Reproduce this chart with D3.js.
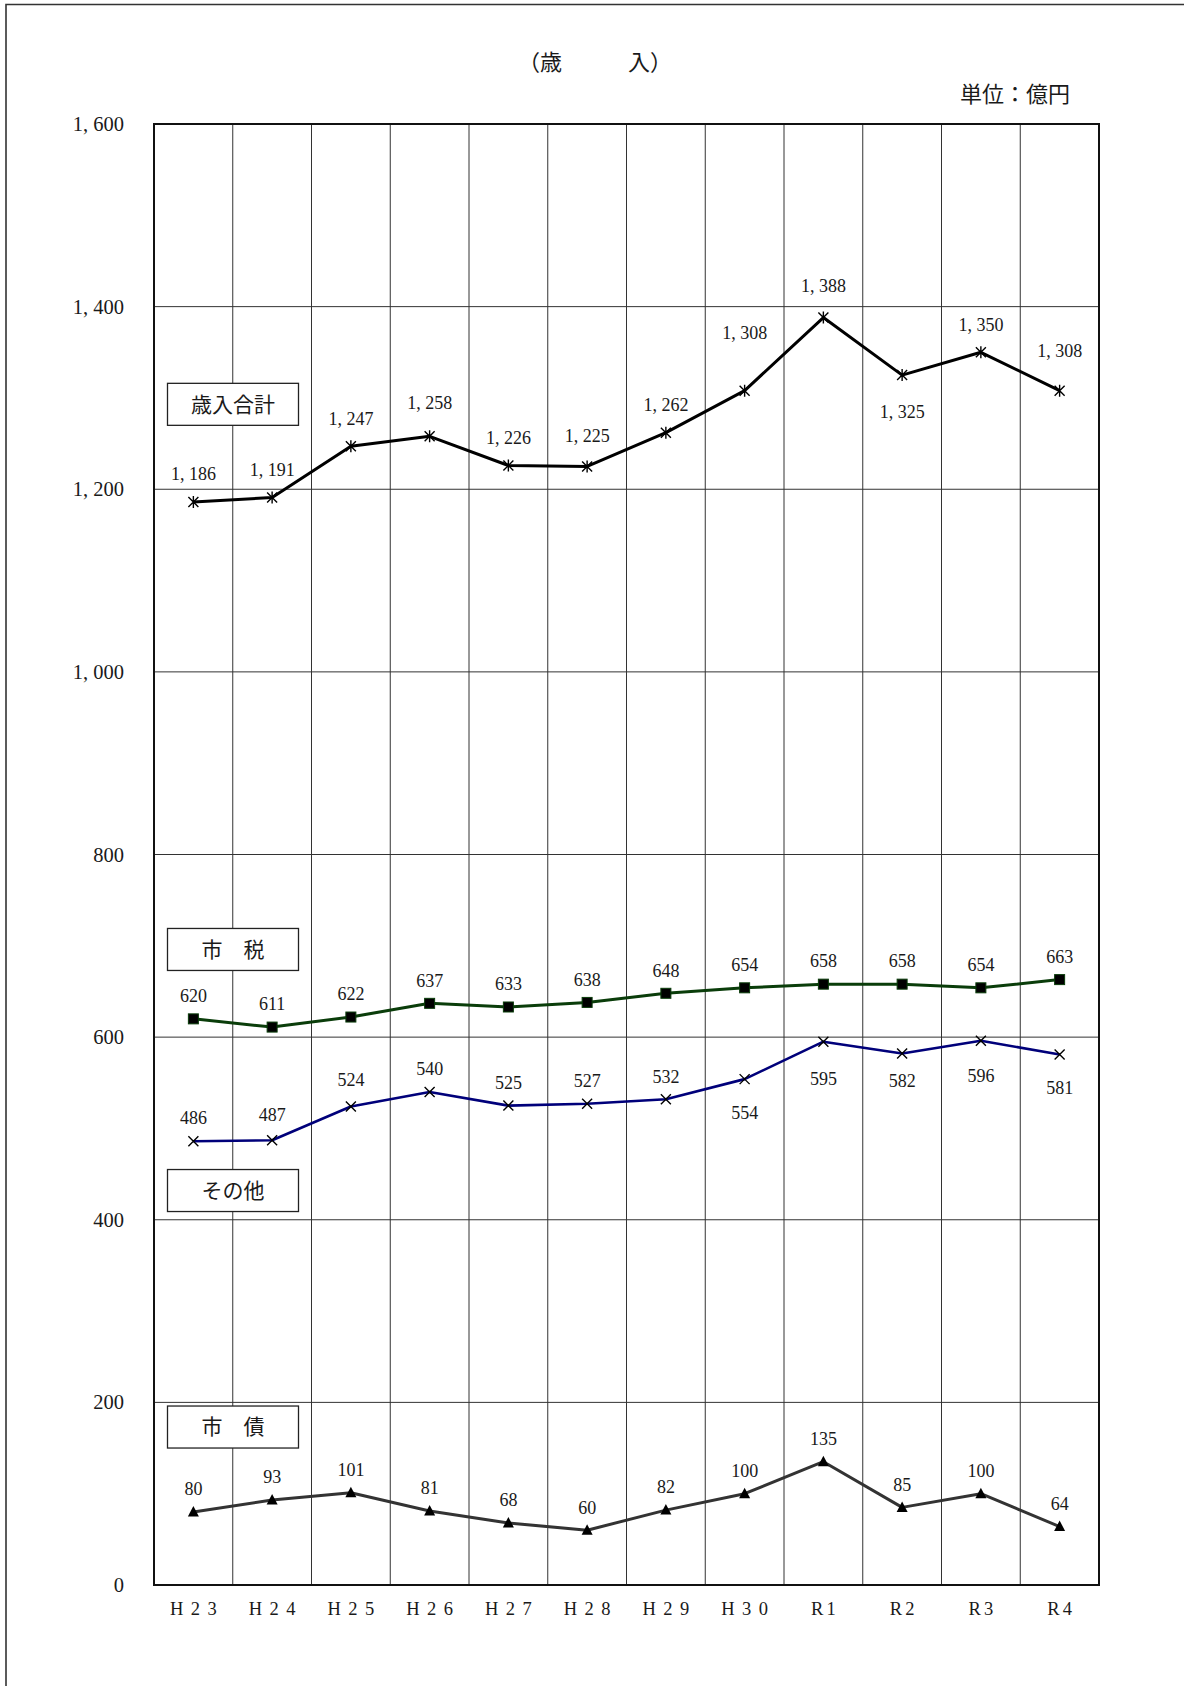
<!DOCTYPE html>
<html>
<head>
<meta charset="UTF-8">
<title>歳入</title>
<style>
  body { margin: 0; background: #fff; }
  text { fill: #1a1a1a; }
</style>
</head>
<body>
<script src="https://cdn.jsdelivr.net/npm/d3@7"></script>
<script>
// 年度
var years = ["H23", "H24", "H25", "H26", "H27", "H28", "H29", "H30", "R1", "R2", "R3", "R4"];
// 歳入合計・市税・その他・市債（億円）
var total = [1186, 1191, 1247, 1258, 1226, 1225, 1262, 1308, 1388, 1325, 1350, 1308];
var tax   = [620, 611, 622, 637, 633, 638, 648, 654, 658, 658, 654, 663];
var other = [486, 487, 524, 540, 525, 527, 532, 554, 595, 582, 596, 581];
var debt  = [80, 93, 101, 81, 68, 60, 82, 100, 135, 85, 100, 64];
var yTicks = [0, 200, 400, 600, 800, 1000, 1200, 1400, 1600];

var width = 1184, height = 1686;
// グラフ領域（window.top と衝突しないよう別名）
var pl = 154, pr = 1099, pt = 124, pb = 1585;

var serif = "'Liberation Serif', 'DejaVu Serif', serif";
var jp = "'Noto Sans CJK JP', sans-serif";

var svg = d3.select("body").append("svg")
    .attr("width", width)
    .attr("height", height);

var x = d3.scaleBand().domain(years).range([pl, pr]).padding(0);
var y = d3.scaleLinear().domain([0, 1600]).range([pb, pt]);
var cx = function(d, i) { return x(years[i]) + x.bandwidth() / 2; };

// 外枠
svg.append("path")
    .attr("d", "M6," + height + " V4.5 H" + width)
    .attr("fill", "none")
    .attr("stroke", "#333")
    .attr("stroke-width", 1.6);

// 目盛線
svg.append("g").selectAll("line")
    .data(yTicks.slice(1, -1))
    .enter().append("line")
    .attr("x1", pl).attr("x2", pr)
    .attr("y1", function(d) { return y(d); })
    .attr("y2", function(d) { return y(d); })
    .attr("stroke", "#333").attr("stroke-width", 1);
svg.append("g").selectAll("line")
    .data(years.slice(1))
    .enter().append("line")
    .attr("x1", function(d) { return x(d); })
    .attr("x2", function(d) { return x(d); })
    .attr("y1", pt).attr("y2", pb)
    .attr("stroke", "#333").attr("stroke-width", 1);
svg.append("rect")
    .attr("x", pl).attr("y", pt)
    .attr("width", pr - pl).attr("height", pb - pt)
    .attr("fill", "none").attr("stroke", "#111").attr("stroke-width", 2);

// 軸ラベル
var fmt = function(v) { return d3.format(",")(v).replace(",", ", "); };
var yAxis = svg.append("g")
    .attr("transform", "translate(" + pl + ",0)")
    .call(d3.axisLeft(y).tickValues(yTicks).tickSize(0).tickPadding(30).tickFormat(fmt));
yAxis.select(".domain").remove();
yAxis.selectAll("text")
    .attr("font-family", serif).attr("font-size", 20.5).attr("fill", "#1a1a1a");

var xAxis = svg.append("g")
    .attr("transform", "translate(0," + pb + ")")
    .call(d3.axisBottom(x).tickSize(0).tickPadding(0));
xAxis.select(".domain").remove();
xAxis.selectAll("text")
    .attr("y", 24).attr("dy", "0.35em")
    .attr("font-family", serif).attr("font-size", 18.5).attr("fill", "#2a2a2a")
    .attr("letter-spacing", function(d) { return d[0] === "H" ? 7.5 : 3; })
    .attr("dx", function(d) { return d[0] === "H" ? 3.75 : 1.5; });

// タイトル
svg.append("text")
    .attr("x", 595).attr("y", 62).attr("dy", "0.35em")
    .attr("text-anchor", "middle")
    .attr("font-family", jp).attr("font-size", 22)
    .text("（歳　　　入）");
svg.append("text")
    .attr("x", 1070).attr("y", 94).attr("dy", "0.35em")
    .attr("text-anchor", "end")
    .attr("font-family", jp).attr("font-size", 22)
    .text("単位：億円");

// 系列
var series = [
  { name: "歳入合計", values: total, color: "#000", width: 3, marker: "star",
    box: 1293, dy: -28, over: { H26: -34, H28: -31, H30: -58, R1: -32, R2: 37, R4: -40 } },
  { name: "市　税", values: tax, color: "#0a3d0a", width: 3, marker: "square",
    box: 696, dy: -23, over: {} },
  { name: "その他", values: other, color: "#00007a", width: 2.6, marker: "cross",
    box: 432, dy: -23, over: { H23: -24, H24: -26, H25: -27, H30: 34, R1: 37, R2: 27, R3: 35, R4: 33 } },
  { name: "市　債", values: debt, color: "#333", width: 3, marker: "triangle",
    box: 173, dy: -23, over: {} }
];

var line = d3.line()
    .x(cx)
    .y(function(d) { return y(d); });

series.forEach(function(s) {
  var g = svg.append("g");
  g.append("path")
      .datum(s.values)
      .attr("d", line)
      .attr("fill", "none")
      .attr("stroke", s.color)
      .attr("stroke-width", s.width)
      .attr("stroke-linejoin", "round");

  var m = g.selectAll("g.m")
      .data(s.values)
      .enter().append("g")
      .attr("class", "m")
      .attr("transform", function(d, i) { return "translate(" + cx(d, i) + "," + y(d) + ")"; });

  if (s.marker === "square") {
    m.append("rect")
        .attr("x", -5).attr("y", -5).attr("width", 10).attr("height", 10)
        .attr("fill", "#000").attr("stroke", s.color).attr("stroke-width", 1);
  } else if (s.marker === "triangle") {
    m.append("path").attr("d", "M0,-6 L5.5,4.5 L-5.5,4.5 Z").attr("fill", "#000");
  } else {
    var sym = s.marker === "star" ? "M-5,-5L5,5M-5,5L5,-5M0,-6V6" : "M-5,-5L5,5M-5,5L5,-5";
    m.append("path").attr("d", sym).attr("stroke", "#000").attr("stroke-width", 1.4);
  }

  // 数値ラベル
  g.selectAll("text.v")
      .data(s.values)
      .enter().append("text")
      .attr("class", "v")
      .attr("x", cx)
      .attr("y", function(d, i) {
        var o = s.over[years[i]];
        return y(d) + (o === undefined ? s.dy : o);
      })
      .attr("dy", "0.35em")
      .attr("text-anchor", "middle")
      .attr("font-family", serif).attr("font-size", 18)
      .text(fmt);

  // 凡例ボックス
  var by = y(s.box);
  svg.append("rect")
      .attr("x", 167.5).attr("y", by - 21)
      .attr("width", 131).attr("height", 42)
      .attr("fill", "#fff").attr("stroke", "#222").attr("stroke-width", 1.3);
  svg.append("text")
      .attr("x", 233).attr("y", by).attr("dy", "0.35em")
      .attr("text-anchor", "middle")
      .attr("font-family", jp).attr("font-size", 21)
      .text(s.name);
});
</script>
</body>
</html>
